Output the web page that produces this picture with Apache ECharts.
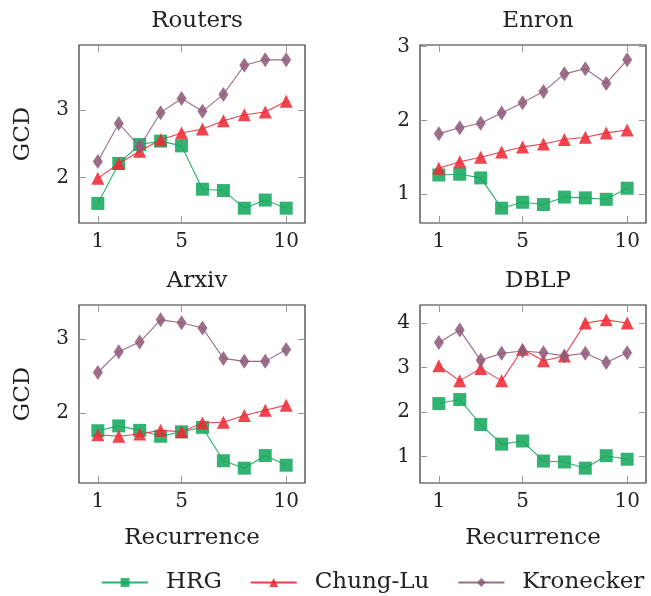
<!DOCTYPE html>
<html><head><meta charset="utf-8">
<script src="https://cdn.jsdelivr.net/npm/echarts@6/dist/echarts.min.js"></script>
<style>html,body{margin:0;padding:0;background:#fff}#c{width:651px;height:596px}</style>
</head><body><div id="c"></div>
<script>
const recurrence = [1,2,3,4,5,6,7,8,9,10];
const xTicks = [1,5,10];
const panelTitles = ['Routers','Enron','Arxiv','DBLP'];
const seriesNames = ['HRG','Chung-Lu','Kronecker'];

const routersHRG = [1.62,2.21,2.49,2.54,2.47,1.83,1.81,1.55,1.67,1.55];
const routersChungLu = [1.99,2.21,2.39,2.56,2.66,2.72,2.84,2.93,2.97,3.13];
const routersKronecker = [2.24,2.80,2.46,2.96,3.17,2.98,3.23,3.66,3.74,3.74];
const routersTicks = [2,3];

const enronHRG = [1.26,1.27,1.22,0.81,0.89,0.86,0.96,0.95,0.93,1.08];
const enronChungLu = [1.35,1.44,1.50,1.57,1.64,1.68,1.74,1.77,1.83,1.87];
const enronKronecker = [1.82,1.90,1.96,2.10,2.24,2.39,2.63,2.70,2.50,2.82];
const enronTicks = [1,2,3];

const arxivHRG = [1.765,1.83,1.77,1.69,1.75,1.81,1.36,1.26,1.43,1.30];
const arxivChungLu = [1.71,1.69,1.72,1.77,1.75,1.87,1.88,1.97,2.04,2.11];
const arxivKronecker = [2.55,2.83,2.96,3.26,3.22,3.15,2.74,2.70,2.70,2.86];
const arxivTicks = [2,3];

const dblpHRG = [2.19,2.28,1.72,1.28,1.35,0.90,0.88,0.74,1.02,0.94];
const dblpChungLu = [3.04,2.70,2.98,2.70,3.41,3.15,3.26,4.00,4.07,4.00];
const dblpKronecker = [3.56,3.84,3.16,3.32,3.37,3.33,3.26,3.32,3.11,3.33];
const dblpTicks = [1,2,3,4];

const panelData = [
  [routersHRG, routersChungLu, routersKronecker],
  [enronHRG, enronChungLu, enronKronecker],
  [arxivHRG, arxivChungLu, arxivKronecker],
  [dblpHRG, dblpChungLu, dblpKronecker]
];
const panelYTicks = [routersTicks, enronTicks, arxivTicks, dblpTicks];

const FONT = 'DejaVu Serif';
const TXT = '#222';
const colors = ['#17a95e', '#ee2a36', '#8f5b7a'];
const symbols = ['rect', 'triangle', 'diamond'];
const symbolSizes = [13, 13, [10, 15]];

const gridPos = [
  {left: 79, top: 45}, {left: 420, top: 45},
  {left: 79, top: 305}, {left: 420, top: 305}
];
const W = 226, H = 178;

const grids = [], xAxes = [], yAxes = [], series = [], titles = [];
const xmin = 1 - 0.1 * 9, xmax = 10 + 0.1 * 9;

panelData.forEach((sets, i) => {
  grids.push({left: gridPos[i].left, top: gridPos[i].top, width: W, height: H,
    show: true, borderColor: '#333', borderWidth: 1.2, backgroundColor: 'transparent'});
  const all = [].concat(...sets);
  const lo = Math.min(...all), hi = Math.max(...all);
  const pad = 0.1 * (hi - lo);
  const ymin = lo - pad, ymax = hi + pad;
  const tickStyle = {show: true, inside: true, length: 7, lineStyle: {color: '#999', width: 1}};
  const isBottom = i >= 2, isLeft = i % 2 === 0;
  xAxes.push({gridIndex: i, type: 'value', position: 'bottom', min: xmin, max: xmax,
    axisLine: {show: false}, splitLine: {show: false},
    axisTick: Object.assign({customValues: xTicks}, tickStyle),
    axisLabel: {customValues: xTicks, fontFamily: FONT, fontSize: 20, color: TXT, margin: 9},
    name: isBottom ? 'Recurrence' : '', nameLocation: 'middle', nameGap: 44,
    nameTextStyle: {fontFamily: FONT, fontSize: 23, color: TXT}});
  xAxes.push({gridIndex: i, type: 'value', position: 'top', min: xmin, max: xmax,
    axisLine: {show: false}, splitLine: {show: false},
    axisTick: Object.assign({customValues: xTicks}, tickStyle),
    axisLabel: {show: false}});
  yAxes.push({gridIndex: i, type: 'value', position: 'left', min: ymin, max: ymax,
    axisLine: {show: false}, splitLine: {show: false},
    axisTick: Object.assign({customValues: panelYTicks[i]}, tickStyle),
    axisLabel: {customValues: panelYTicks[i], fontFamily: FONT, fontSize: 20, color: TXT, margin: 10},
    name: isLeft ? 'GCD' : '', nameLocation: 'middle', nameGap: 44, nameRotate: 90,
    nameTextStyle: {fontFamily: FONT, fontSize: 23, color: TXT}});
  yAxes.push({gridIndex: i, type: 'value', position: 'right', min: ymin, max: ymax,
    axisLine: {show: false}, splitLine: {show: false},
    axisTick: Object.assign({customValues: panelYTicks[i]}, tickStyle),
    axisLabel: {show: false}});
  titles.push({text: panelTitles[i], left: gridPos[i].left + W / 2, top: gridPos[i].top - 40,
    textAlign: 'center',
    textStyle: {fontFamily: FONT, fontSize: 23, fontWeight: 'normal', color: TXT}});
  sets.forEach((vals, s) => {
    series.push({name: seriesNames[s], type: 'line', xAxisIndex: 2 * i, yAxisIndex: 2 * i,
      data: recurrence.map((x, k) => [x, vals[k]]),
      symbol: symbols[s], symbolSize: symbolSizes[s], showSymbol: true,
      color: colors[s],
      lineStyle: {width: 1.1, color: colors[s], opacity: 0.9},
      itemStyle: {color: colors[s], opacity: 0.88},
      animation: false, z: 2 + s});
  });
});

const chart = echarts.init(document.getElementById('c'), null, {renderer: 'canvas'});
chart.setOption({
  animation: false,
  title: titles,
  grid: grids, xAxis: xAxes, yAxis: yAxes, series: series,
  legend: {data: seriesNames, left: 96, top: 566, itemWidth: 46, itemHeight: 11, itemGap: 28,
    textStyle: {fontFamily: FONT, fontSize: 23, color: TXT, padding: [0, 0, 0, 13]}}
});
</script></body></html>
